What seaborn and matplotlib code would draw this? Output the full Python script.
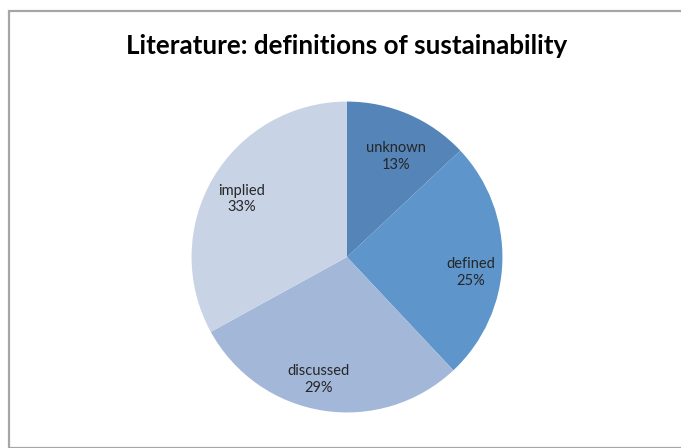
import matplotlib
matplotlib.use("Agg")
import matplotlib.pyplot as plt
import seaborn as sns
from matplotlib.patches import Rectangle

categories = ["unknown", "defined", "discussed", "implied"]
values = [13, 25, 29, 33]
colors = ["#5584B8", "#5E95CB", "#A3B7D9", "#C8D3E6"]
title = "Literature: definitions of sustainability"

sns.set_theme(style="white")
plt.rcParams['font.family'] = ['Lato', 'DejaVu Sans']

W, H = 681, 448
fig = plt.figure(figsize=(W / 100, H / 100), dpi=100)
fig.patch.set_facecolor("white")

# border frame
fig.add_artist(Rectangle((8.5 / W, 0), 1.0, 1 - 11.5 / H, transform=fig.transFigure,
                         fill=False, edgecolor="#A6A6A6", linewidth=1.6))

cx, cy, r = 347, H - 257, 157
ax = fig.add_axes([(cx - r) / W, (cy - r) / H, 2 * r / W, 2 * r / H])
ax.set_aspect("equal")

pal = sns.color_palette(colors)
labels_iter = iter(categories)
wedges, texts, autotexts = ax.pie(
    values, colors=pal, startangle=90, counterclock=False,
    autopct=lambda p: f"{next(labels_iter)}\n{p:.0f}%", pctdistance=0.77,
    wedgeprops=dict(linewidth=0), radius=0.99,
    textprops=dict(fontsize=10.5, color="#262626", linespacing=1.25))
ax.set_xlim(-1, 1)
ax.set_ylim(-1, 1)

# label placement (Excel best-fit style), in units of the pie radius
label_pos = [(0.31, 0.64), (0.79, -0.10), (-0.18, -0.78), (-0.67, 0.37)]
for t, (x, y) in zip(autotexts, label_pos):
    t.set_position((x, y))
    t.set_ha("center")
    t.set_va("center")

fig.text(347 / W, 1 - 46 / H, title, ha="center", va="center",
         fontsize=18.7, fontweight="bold", color="black")

fig.savefig("out.png", dpi=100)
